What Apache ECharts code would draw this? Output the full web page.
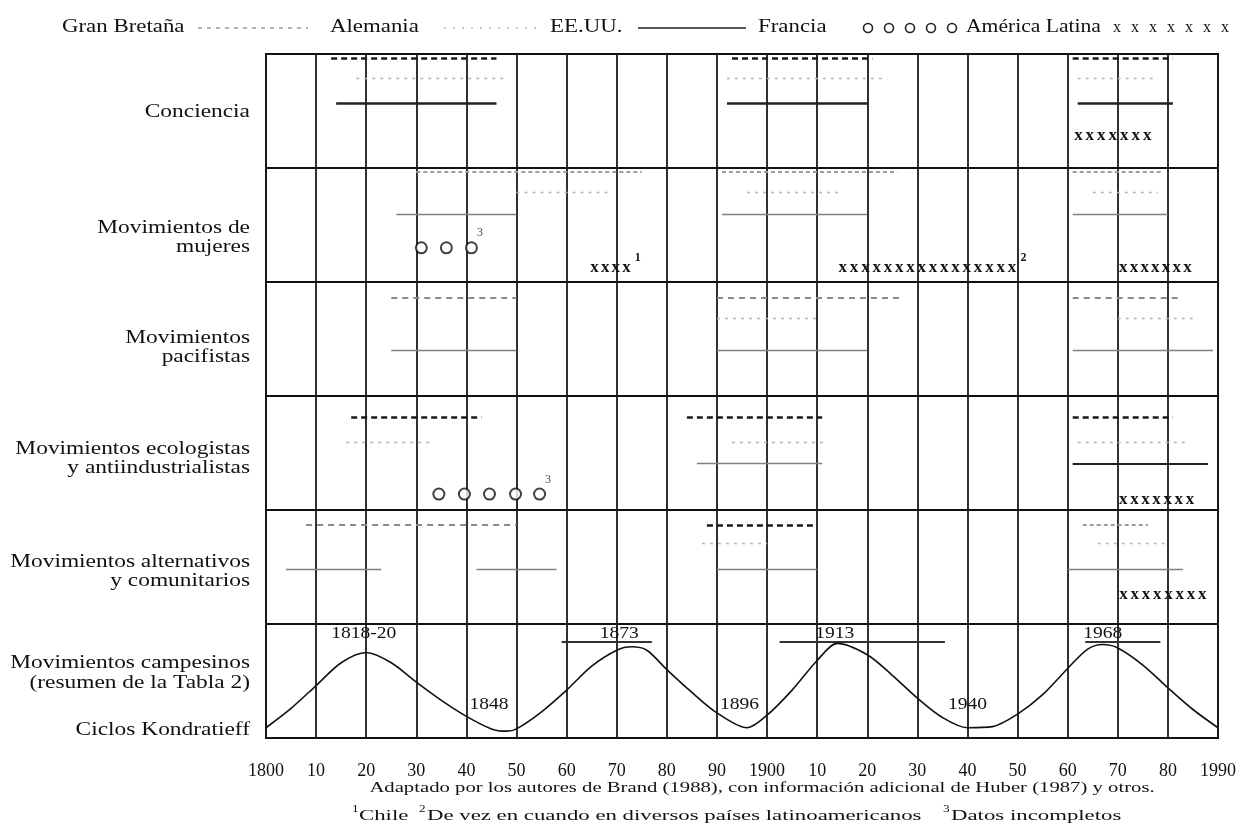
<!DOCTYPE html>
<html><head><meta charset="utf-8">
<script src="https://cdn.jsdelivr.net/npm/echarts@6/dist/echarts.min.js"></script>
<style>html,body{margin:0;padding:0;background:#fff}#c{width:1241px;height:832px}</style>
</head><body><div id="c"></div>
<script>
// ---------------- data ----------------
const ROW_LABELS = [
  ["Conciencia"],
  ["Movimientos de", "mujeres"],
  ["Movimientos", "pacifistas"],
  ["Movimientos ecologistas", "y antiindustrialistas"],
  ["Movimientos alternativos", "y comunitarios"],
  ["Movimientos campesinos", "(resumen de la Tabla 2)"]
];
const CYCLE_LABEL = "Ciclos Kondratieff";
const LEGEND_NAMES = ["Gran Bretaña", "Alemania", "EE.UU.", "Francia", "América Latina"];
const YEAR_MIN = 1800, YEAR_MAX = 1990, YEAR_STEP = 10;

// [row, startYear, endYear]
const GB = [
  [0, 1813, 1846], [0, 1893, 1921], [0, 1961, 1981],
  [1, 1830, 1875], [1, 1891, 1926], [1, 1961, 1979],
  [2, 1825, 1850], [2, 1890, 1927], [2, 1961, 1982],
  [3, 1817, 1843], [3, 1884, 1911], [3, 1961, 1981],
  [4, 1808, 1850], [4, 1888, 1910], [4, 1963, 1976]
];
const AL = [
  [0, 1818, 1848], [0, 1892, 1924], [0, 1962, 1977],
  [1, 1850, 1869], [1, 1896, 1915], [1, 1965, 1978],
  [2, 1890, 1910], [2, 1970, 1985],
  [3, 1816, 1833], [3, 1893, 1912], [3, 1962, 1984],
  [4, 1887, 1900], [4, 1966, 1980]
];
const US = [
  [0, 1814, 1846], [0, 1892, 1920], [0, 1962, 1981],
  [1, 1826, 1850], [1, 1891, 1920], [1, 1961, 1980],
  [2, 1825, 1850], [2, 1890, 1920], [2, 1961, 1989],
  [3, 1886, 1911], [3, 1961, 1988],
  [4, 1804, 1823], [4, 1842, 1858], [4, 1890, 1910], [4, 1960, 1983]
];
// Francia: [row, year]
const FR = [
  [1, 1831], [1, 1836], [1, 1841],
  [3, 1834.5], [3, 1839.6], [3, 1844.6], [3, 1849.8], [3, 1854.6]
];
const FR_NOTES = { 1: "3", 3: "3" };
// América Latina: [row, startYear, endYear, number of x marks, note]
const LA = [
  [0, 1961, 1977, 7, ""],
  [1, 1864.5, 1873, 4, "1"],
  [1, 1914, 1950, 16, "2"],
  [1, 1970, 1985, 7, ""],
  [3, 1970, 1985.5, 7, ""],
  [4, 1970, 1988, 8, ""]
];
// Kondratieff cycle curve: [year, level 0-100 within the row]
const KONDRATIEFF = [
  [1800, 9], [1805, 26], [1810, 46], [1815, 66], [1820, 75], [1825, 66], [1830, 49],
  [1835, 33], [1840, 19], [1845, 8], [1848, 6], [1850, 8], [1855, 23], [1860, 42],
  [1865, 63], [1870, 77], [1873, 80], [1876, 77], [1880, 60], [1885, 40], [1890, 22],
  [1896, 9], [1900, 20], [1905, 42], [1910, 68], [1914, 83], [1920, 73], [1925, 55],
  [1930, 35], [1935, 18], [1940, 9], [1945, 10], [1950, 21], [1955, 38], [1960, 61],
  [1964, 78], [1967, 82], [1970, 79], [1975, 64], [1980, 44], [1985, 25], [1990, 9]
];
const PEAK_BARS = [[1859, 1877], [1902.5, 1935.5], [1963.5, 1978.5]];
const CYCLE_YEARS = [
  ["1818-20", 1819.5, "peak"], ["1848", 1844.5, "trough"], ["1873", 1870.5, "peak"],
  ["1896", 1894.5, "trough"], ["1913", 1913.5, "peak"], ["1940", 1940, "trough"],
  ["1968", 1967, "peak"]
];
const SOURCE = "Adaptado por los autores de Brand (1988), con información adicional de Huber (1987) y otros.";
const FOOTNOTES = [["1", "Chile"], ["2", "De vez en cuando en diversos países latinoamericanos"], ["3", "Datos incompletos"]];

// ---------------- layout / styles ----------------
const FONT = '"Liberation Serif", "Times New Roman", serif';
const LANE = {
  GB: [0.035, 0.035, 0.14, 0.184, 0.13],
  AL: [0.21, 0.21, 0.32, 0.41, 0.29],
  US: [0.43, 0.41, 0.60, 0.59, 0.52],
  FR: [0, 0.70, 0, 0.86, 0],
  LA: [0.72, 0.87, 0, 0.905, 0.746]
};
const ST = {
  darkDash: { color: '#1a1a1a', width: 2.5, type: [6, 4] },
  grayDash: { color: '#8a8a8a', width: 2, type: [6, 5] },
  lightDash: { color: '#9c9c9c', width: 2, type: [4, 3] },
  dots: { color: '#b4b4b4', width: 1.3, type: [3, 5] },
  solidDark: { color: '#222', width: 2.5, type: 'solid' },
  solidThin: { color: '#808080', width: 1.4, type: 'solid' }
};
function styleFor(c, row, k) {
  if (c === 'GB') {
    if (row === 4) return [ST.grayDash, ST.darkDash, ST.lightDash][k];
    return [ST.darkDash, ST.lightDash, ST.grayDash, ST.darkDash][row];
  }
  if (c === 'AL') return ST.dots;
  if (row === 0) return ST.solidDark;
  if (row === 3 && k === 1) return Object.assign({}, ST.solidDark, { width: 2 });
  return ST.solidThin;
}
function segSeries(name, arr, c) {
  const cnt = {};
  return {
    type: 'lines', name, coordinateSystem: 'cartesian2d', xAxisIndex: 0, yAxisIndex: 0,
    silent: true, z: 5,
    data: arr.map(s => {
      const k = cnt[s[0]] = (cnt[s[0]] === undefined ? 0 : cnt[s[0]] + 1);
      const y = s[0] + LANE[c][s[0]];
      return { coords: [[s[1], y], [s[2], y]], lineStyle: Object.assign({ cap: 'butt', opacity: 1 }, styleFor(c, s[0], k)) };
    })
  };
}

const chart = echarts.init(document.getElementById('c'), null, { renderer: 'canvas' });

const LEFT = 266, RIGHT = 23, TOP = 54, BOTTOM = 94;
const ROWH = (832 - TOP - BOTTOM) / 6;

const graphic = [];
function txt(text, x, y, size, align, sx) {
  graphic.push({
    type: 'text', x, y, scaleX: sx || 1.3,
    style: { text, font: size + 'px ' + FONT, fill: '#111', align: align || 'left', verticalAlign: 'middle' }
  });
}
// row labels
const labelY = [[112], [228, 247], [338, 357], [449, 468], [562, 581], [663, 683]];
ROW_LABELS.forEach((lines, r) => lines.forEach((l, j) => txt(l, 250, labelY[r][j], 18, 'right', 1.3)));
txt(CYCLE_LABEL, 250, 730, 18, 'right', 1.3);
// legend
txt(LEGEND_NAMES[0], 62, 27, 18, 'left', 1.27);
graphic.push({ type: 'line', shape: { x1: 198, y1: 28, x2: 308, y2: 28 }, style: { stroke: '#999', lineWidth: 1.5, lineDash: [4, 5] } });
txt(LEGEND_NAMES[1], 330, 27, 18, 'left', 1.27);
graphic.push({ type: 'line', shape: { x1: 444, y1: 28, x2: 540, y2: 28 }, style: { stroke: '#bbb', lineWidth: 1.5, lineDash: [2, 7] } });
txt(LEGEND_NAMES[2], 550, 27, 18, 'left', 1.27);
graphic.push({ type: 'line', shape: { x1: 638, y1: 28, x2: 746, y2: 28 }, style: { stroke: '#222', lineWidth: 1.5 } });
txt(LEGEND_NAMES[3], 758, 27, 18, 'left', 1.27);
for (let i = 0; i < 5; i++) graphic.push({ type: 'circle', shape: { cx: 868 + 21 * i, cy: 28, r: 4.5 }, style: { fill: '#fff', stroke: '#222', lineWidth: 1.6 } });
txt(LEGEND_NAMES[4], 966, 27, 18, 'left', 1.2);
for (let i = 0; i < 7; i++) graphic.push({ type: 'text', x: 1117 + 18 * i, y: 28, style: { text: 'x', font: '16px ' + FONT, fill: '#111', align: 'center', verticalAlign: 'middle' } });
// source + footnotes
txt(SOURCE, 762, 788, 15, 'center', 1.38);
const fnX = [[352, 359], [419, 427], [943, 951]];
FOOTNOTES.forEach((f, i) => {
  txt(f[0], fnX[i][0], 809, 11, 'left', 1.2);
  txt(f[1], fnX[i][1], 816, 15, 'left', 1.52);
});

const series = [
  segSeries(LEGEND_NAMES[0], GB, 'GB'),
  segSeries(LEGEND_NAMES[1], AL, 'AL'),
  segSeries(LEGEND_NAMES[2], US, 'US'),
  {
    type: 'scatter', name: LEGEND_NAMES[3], xAxisIndex: 0, yAxisIndex: 0, z: 6, silent: true,
    symbol: 'circle', symbolSize: 11,
    itemStyle: { color: '#fff', borderColor: '#111', borderWidth: 2 },
    data: FR.map((d, i) => {
      const last = !FR[i + 1] || FR[i + 1][0] !== d[0];
      const item = { value: [d[1], d[0] + LANE.FR[d[0]]] };
      if (last && FR_NOTES[d[0]]) item.label = { show: true, formatter: FR_NOTES[d[0]], position: [12, -14], fontFamily: FONT, fontSize: 12, color: '#111' };
      return item;
    })
  },
  {
    type: 'custom', name: LEGEND_NAMES[4], xAxisIndex: 0, yAxisIndex: 0, z: 6, silent: true,
    data: LA.map((d, i) => [d[1], d[2], d[0] + LANE.LA[d[0]], d[3], i]),
    encode: { x: [0, 1], y: 2 },
    renderItem(params, api) {
      const p0 = api.coord([api.value(0), api.value(2)]);
      const p1 = api.coord([api.value(1), api.value(2)]);
      const n = api.value(3);
      const step = (p1[0] - p0[0]) / n;
      const children = [];
      for (let k = 0; k < n; k++) children.push({
        type: 'text', x: p0[0] + step * (k + 0.5), y: p0[1],
        style: { text: 'x', font: 'bold 17px ' + FONT, fill: '#111', align: 'center', verticalAlign: 'middle' }
      });
      const note = LA[api.value(4)][4];
      if (note) children.push({ type: 'text', x: p1[0] + 3, y: p0[1] - 9, style: { text: note, font: 'bold 12px ' + FONT, fill: '#111', align: 'left', verticalAlign: 'middle' } });
      return { type: 'group', children };
    }
  },
  {
    type: 'line', name: CYCLE_LABEL, xAxisIndex: 1, yAxisIndex: 1, data: KONDRATIEFF,
    smooth: 0.3, showSymbol: false, silent: true, z: 5,
    lineStyle: { color: '#111', width: 1.6 }
  },
  {
    type: 'lines', coordinateSystem: 'cartesian2d', xAxisIndex: 1, yAxisIndex: 1, silent: true, z: 5,
    lineStyle: { color: '#333', width: 2, opacity: 1 },
    data: PEAK_BARS.map(b => ({ coords: [[b[0], 84], [b[1], 84]] }))
  },
  {
    type: 'custom', xAxisIndex: 1, yAxisIndex: 1, silent: true, z: 7,
    data: CYCLE_YEARS.map((d, i) => [d[1], d[2] === 'peak' ? 92 : 29, i]),
    encode: { x: 0, y: 1 },
    renderItem(params, api) {
      const p = api.coord([api.value(0), api.value(1)]);
      return { type: 'text', x: p[0], y: p[1], scaleX: 1.15,
        style: { text: CYCLE_YEARS[api.value(2)][0], font: '17px ' + FONT, fill: '#111', align: 'center', verticalAlign: 'middle' } };
    }
  }
];

chart.setOption({
  animation: false,
  backgroundColor: '#fff',
  grid: [
    { left: LEFT, right: RIGHT, top: TOP, bottom: BOTTOM, show: true, borderColor: '#111', borderWidth: 2 },
    { left: LEFT, right: RIGHT, top: TOP + 5 * ROWH, bottom: BOTTOM }
  ],
  xAxis: [
    {
      type: 'value', gridIndex: 0, min: YEAR_MIN, max: YEAR_MAX, interval: YEAR_STEP,
      axisLine: { show: false }, axisTick: { show: false },
      splitLine: { show: true, lineStyle: { color: '#1a1a1a', width: 1.8 } },
      axisLabel: {
        margin: 24, fontFamily: FONT, fontSize: 18, color: '#111', showMinLabel: true, showMaxLabel: true,
        formatter: v => (v === 1800 || v === 1900 || v === 1990) ? String(v) : String(v % 100)
      }
    },
    { type: 'value', gridIndex: 1, min: YEAR_MIN, max: YEAR_MAX, show: false }
  ],
  yAxis: [
    {
      type: 'value', gridIndex: 0, min: 0, max: 6, interval: 1, inverse: true,
      axisLine: { show: false }, axisTick: { show: false }, axisLabel: { show: false },
      splitLine: { show: true, lineStyle: { color: '#111', width: 2.2 } }
    },
    { type: 'value', gridIndex: 1, min: 0, max: 100, show: false }
  ],
  graphic,
  series
});
</script></body></html>
